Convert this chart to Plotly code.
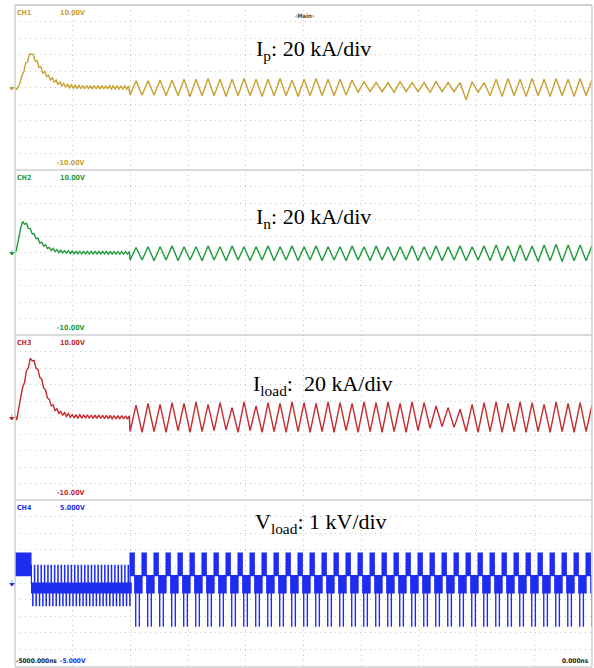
import numpy as np
import plotly.graph_objects as go

W, H = 594, 668
T_START, T_END = -5000.0, 0.0

# ---------------- data (scope units, volts) ----------------
# start-up transient envelopes (time ns, value V)
ch1_env_t = [-5000, -4983, -4957, -4913, -4861, -4830, -4757, -4697, -4627, -4549, -4450, -4003]
ch1_env_v = [0.0, -0.2, 0.5, 2.6, 4.3, 3.5, 1.9, 1.15, 0.55, 0.18, 0.05, 0.0]
ch2_env_t = [-5000, -4990, -4950, -4931, -4900, -4850, -4780, -4700, -4620, -4500, -4003]
ch2_env_v = [0.0, 0.2, 3.0, 3.7, 3.4, 2.4, 1.2, 0.45, 0.15, 0.0, -0.05]
ch3_env_t = [-5000, -4985, -4950, -4900, -4861, -4830, -4783, -4740, -4697, -4650, -4600, -4500, -4003]
ch3_env_v = [0.3, -0.3, 2.5, 5.5, 7.3, 6.6, 5.0, 3.3, 1.8, 1.0, 0.5, 0.15, 0.0]
ripple_amp = {"ch1": 0.2, "ch2": 0.15, "ch3": 0.2}

# steady-state triangle ripple: peak and valley of each cycle after t = -4003 ns
ch1_peaks = [0.8, 0.8, 0.9, 0.9, 1.0, 1.0, 1.1, 1.0, 1.0, 1.1, 1.0, 1.0, 1.1, 0.9, 1.0, 1.1, 1.0, 1.0, 0.9,
             0.7, 0.6, 0.6, 0.7, 0.6, 0.6, 0.7, 0.6, 0.6, 0.7, 0.6, 1.0, 1.1, 1.0, 1.1, 1.0, 1.1, 1.0, 1.1, 1.0]
ch1_valleys = [-0.9, -0.9, -0.9, -1.0, -1.0, -1.1, -1.0, -1.0, -1.1, -1.0, -1.0, -1.1, -1.0, -1.0, -1.1, -1.0, -1.0, -1.0, -0.9,
               -0.6, -0.5, -0.5, -0.6, -0.5, -0.5, -0.6, -0.5, -0.5, -1.5, -0.6, -1.0, -1.1, -1.0, -1.1, -1.0, -1.1, -1.0, -1.1, -1.0]
ch2_peaks = [0.6, 0.7, 0.7, 0.8, 0.7, 0.7, 0.8, 0.7, 0.8, 0.7, 0.7, 0.8, 0.7, 0.8, 0.7, 0.8, 0.7, 0.7, 0.8,
             0.7, 0.8, 0.7, 0.7, 0.8, 0.7, 0.8, 0.7, 0.8, 0.7, 0.8, 0.9, 0.8, 0.9, 0.8, 0.9, 1.0, 0.9, 0.9, 0.9]
ch2_valleys = [-0.9, -0.9, -1.0, -0.9, -1.0, -0.9, -1.0, -0.9, -1.0, -0.9, -1.0, -0.9, -1.0, -0.9, -1.0, -0.9, -1.0, -0.9, -1.0,
               -0.9, -1.0, -0.9, -1.0, -0.9, -1.0, -0.9, -1.0, -0.9, -1.0, -0.9, -1.0, -1.0, -1.1, -1.0, -1.1, -1.0, -1.1, -1.0, -1.0]
ch3_peaks = [1.5, 1.7, 1.6, 1.8, 1.7, 1.9, 1.6, 1.8, 1.2, 1.9, 1.4, 1.8, 1.7, 1.9, 1.8, 1.7, 1.9, 1.8, 1.7,
             1.9, 1.8, 1.9, 1.7, 1.9, 1.8, 1.4, 1.2, 1.0, 1.6, 1.8, 1.9, 1.7, 1.9, 1.8, 1.6, 1.9, 1.7, 1.8, 1.6]
ch3_valleys = [-1.7, -1.8, -1.7, -1.8, -1.6, -1.8, -1.7, -1.6, -1.5, -1.8, -1.6, -1.8, -1.7, -1.8, -1.7, -1.8, -1.7, -1.8, -1.6,
               -1.8, -1.7, -1.8, -1.7, -1.8, -1.6, -1.3, -1.1, -1.2, -1.7, -1.8, -1.7, -1.8, -1.7, -1.8, -1.7, -1.8, -1.7, -1.8, -1.7]

# load voltage (CH4): switching levels and per-cycle pattern
ch4_start_block = (0.45, 1.8)           # -5000..-4861 ns, dense switching between these
ch4_pre_levels = (1.06, 0.0, -0.6, -1.36)  # -4861..-4003: up-pulse, band top, band bottom, down-pulse
# per fundamental cycle after -4003 ns: (fraction start, fraction end, low, high, switching step ns)
ch4_cycle = [(0.00, 0.35, 0.45, 1.8, 1.5),
             (0.35, 0.45, -0.6, 0.45, 4.0),
             (0.45, 0.49, -2.6, -0.6, 1.5),
             (0.49, 0.75, -0.6, 0.45, 2.0),
             (0.75, 0.79, -2.6, -0.6, 1.5),
             (0.79, 1.00, -0.6, 0.45, 4.0)]

PERIOD = 104.0          # ns, fundamental ripple period
T_SWITCH = -4003.0      # ns, start of steady operation
RIPPLE_PERIOD = 33.0    # ns, small ripple during the start-up

colors = {"ch1": "#C9A030", "ch2": "#1F9A3C", "ch3": "#C42A2E", "ch4": "#1E2CF2"}

# ---------------- waveform assembly ----------------
def transient(env_t, env_v, amp):
    t = [env_t[0], env_t[1], env_t[2]]
    v = [env_v[0], env_v[1], env_v[2]]
    tt = env_t[2] + RIPPLE_PERIOD / 2
    k = 0
    while tt < T_SWITCH:
        base = float(np.interp(tt, env_t, env_v))
        t.append(tt)
        v.append(base + (amp if k % 2 == 0 else -amp))
        tt += RIPPLE_PERIOD / 2
        k += 1
    return t, v


def triangle(peaks, valleys):
    t, v = [], []
    for k, (p, q) in enumerate(zip(peaks, valleys)):
        t0 = T_SWITCH + k * PERIOD
        t += [t0, t0 + PERIOD / 2]
        v += [q, p]
    t.append(T_SWITCH + len(peaks) * PERIOD)
    v.append(valleys[-1])
    return t, v


def current(env_t, env_v, amp, peaks, valleys):
    t1, v1 = transient(env_t, env_v, amp)
    t2, v2 = triangle(peaks, valleys)
    return t1 + t2, v1 + v2


def chatter(ts, te, lo, hi, step, t, v):
    x = ts
    k = 0
    while x < te:
        t.append(x)
        v.append(hi if k % 2 == 0 else lo)
        x += step
        k += 1


def voltage():
    t, v = [], []
    chatter(T_START, -4861.0, ch4_start_block[0], ch4_start_block[1], 2.0, t, v)
    up, btop, bbot, dn = ch4_pre_levels
    x = -4861.0
    sp = 29.0
    while x < T_SWITCH - 1:
        t.append(x); v.append(up)
        chatter(x + 3, x + 14, bbot, btop, 2.0, t, v)
        t.append(x + 14); v.append(dn)
        chatter(x + 17, x + sp, bbot, btop, 2.0, t, v)
        x += sp
    c = T_SWITCH
    while c < T_END:
        for fs, fe, lo, hi, st in ch4_cycle:
            chatter(c + fs * PERIOD, min(c + fe * PERIOD, T_END), lo, hi, st, t, v)
        c += PERIOD
    return t, v


traces = []
for i, (key, env_t, env_v, pk, vl) in enumerate([
        ("ch1", ch1_env_t, ch1_env_v, ch1_peaks, ch1_valleys),
        ("ch2", ch2_env_t, ch2_env_v, ch2_peaks, ch2_valleys),
        ("ch3", ch3_env_t, ch3_env_v, ch3_peaks, ch3_valleys)]):
    t, v = current(env_t, env_v, ripple_amp[key], pk, vl)
    traces.append(go.Scatter(x=t, y=v, mode="lines", line=dict(color=colors[key], width=1.4),
                             xaxis="x" if i == 0 else f"x{i+1}", yaxis="y" if i == 0 else f"y{i+1}",
                             showlegend=False, hoverinfo="skip"))
t4, v4 = voltage()
traces.append(go.Scatter(x=t4, y=v4, mode="lines", line=dict(color=colors["ch4"], width=1.2, shape="hv"),
                         xaxis="x4", yaxis="y4", showlegend=False, hoverinfo="skip"))

fig = go.Figure(traces)

# ---------------- layout ----------------
bounds = [5, 170, 335, 500, 666]
xl, xr = 15, 592


def px(x):
    return x / W


def py(y):
    return 1 - y / H


grid_col = "#c6c6c6"
layout = dict(width=W, height=H, margin=dict(l=0, r=0, t=0, b=0),
              paper_bgcolor="white", plot_bgcolor="white", showlegend=False)
for i in range(4):
    sfx = "" if i == 0 else str(i + 1)
    rng = [-5, 5] if i == 3 else [-10, 10]
    layout["xaxis" + sfx] = dict(domain=[px(xl), px(xr)], range=[T_START, T_END], anchor="y" + sfx,
                                 showgrid=True, gridcolor=grid_col, griddash="1px,4px", gridwidth=1,
                                 tick0=-5000, dtick=500, showticklabels=False, zeroline=False,
                                 showline=False, ticks="", fixedrange=True)
    layout["yaxis" + sfx] = dict(domain=[py(bounds[i + 1]), py(bounds[i])], range=rng, anchor="x" + sfx,
                                 showgrid=True, gridcolor=grid_col, griddash="1px,4px", gridwidth=1,
                                 tick0=rng[0], dtick=(rng[1] - rng[0]) / 10, showticklabels=False,
                                 zeroline=False, showline=False, ticks="", fixedrange=True)

shapes = []
border = "#cfcfcf"
shapes.append(dict(type="line", xref="paper", yref="paper", x0=px(xl), x1=px(xr), y0=py(5), y1=py(5),
                   line=dict(color=border, width=2)))
for b in bounds[1:4]:
    shapes.append(dict(type="line", xref="paper", yref="paper", x0=px(xl), x1=px(xr), y0=py(b), y1=py(b),
                       line=dict(color=border, width=1.5)))
shapes.append(dict(type="line", xref="paper", yref="paper", x0=px(xl), x1=px(xr), y0=py(667), y1=py(667),
                   line=dict(color=border, width=1.5)))
shapes.append(dict(type="line", xref="paper", yref="paper", x0=px(xl), x1=px(xl), y0=py(5), y1=py(667),
                   line=dict(color=border, width=1.5)))
shapes.append(dict(type="line", xref="paper", yref="paper", x0=px(xr), x1=px(xr), y0=py(5), y1=py(667),
                   line=dict(color=border, width=1.5)))
layout["shapes"] = shapes

small = dict(family="DejaVu Sans Condensed, Liberation Sans Narrow, Arial Narrow", size=7)
tiny = dict(family="DejaVu Sans Condensed, Liberation Sans Narrow, Arial Narrow", size=6.5)
serif = dict(family="Liberation Serif, Times New Roman, serif", size=22, color="black")
ann = []


def label(x, y, text, color, font=small, xanchor="left"):
    f = dict(font)
    f["color"] = color
    ann.append(dict(x=px(x), y=py(y), xref="paper", yref="paper", text=text, showarrow=False,
                    xanchor=xanchor, yanchor="middle", font=f))


ch_names = ["CH1", "CH2", "CH3", "CH4"]
tops = ["10.00V", "10.00V", "10.00V", "5.000V"]
bots = ["-10.00V", "-10.00V", "-10.00V", "-5.000V"]
keys = ["ch1", "ch2", "ch3", "ch4"]
for i in range(4):
    c = colors[keys[i]]
    label(15, bounds[i] + 8, "<b>" + ch_names[i] + "</b>", c)
    label(87, bounds[i] + 8, "<b>" + tops[i] + "</b>", c, xanchor="right")
    if i < 3:
        label(87, bounds[i + 1] - 7, "<b>" + bots[i] + "</b>", c, xanchor="right")
    mid = (bounds[i] + bounds[i + 1]) / 2
    label(12, mid, "⏚", c, font=dict(family="DejaVu Sans", size=8), xanchor="center")

label(88, 661, "<b>" + bots[3] + "</b>", colors["ch4"], font=tiny, xanchor="right")
label(14, 661, "<b>-5000.000ns</b>", "#222222", font=tiny)
label(591, 661, "<b>0.000ns</b>", "#222222", font=tiny, xanchor="right")
label(304, 16, "<b>‹Main›</b>", "#444444", font=dict(family="DejaVu Sans Condensed", size=6), xanchor="center")

label(254, 50, "I<sub>p</sub>: 20 kA/div", "black", font=serif)
label(254, 218, "I<sub>n</sub>: 20 kA/div", "black", font=serif)
label(251, 385, "I<sub>load</sub>:  20 kA/div", "black", font=serif)
label(253, 523, "V<sub>load</sub>: 1 kV/div", "black", font=serif)
layout["annotations"] = ann

fig.update_layout(**layout)
fig.write_html("out.html")
